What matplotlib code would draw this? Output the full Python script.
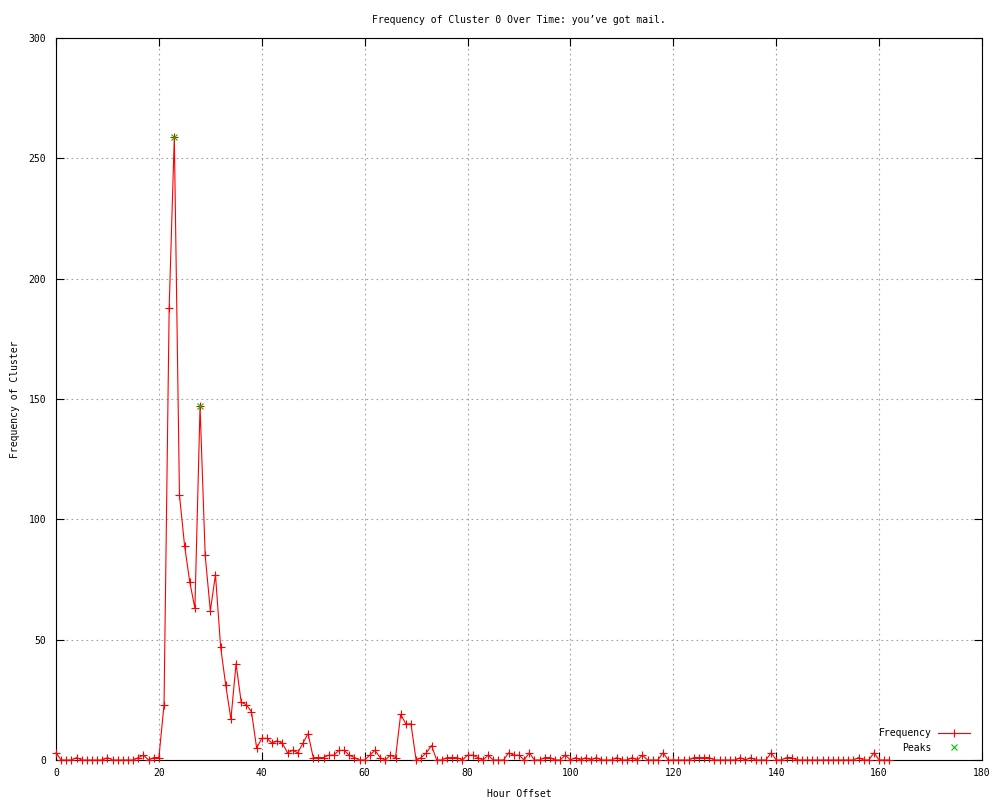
import matplotlib
matplotlib.use("Agg")
import matplotlib.pyplot as plt
import numpy as np

# hourly counts for cluster 0 (hour offset 0..162)
hours = np.arange(163)
freq = [
    3, 0, 0, 0, 1, 0, 0, 0, 0, 0, 1, 0, 0, 0, 0, 0, 1, 2, 0, 1, 1,
    23, 188, 259, 110, 89, 74, 63, 147, 85, 62, 77, 47, 31, 17, 40, 24, 23, 20, 5, 9,
    9, 7, 8, 7, 3, 4, 3, 7, 11, 1, 1, 1, 2, 2, 4, 4, 2, 1, 0, 0,
    2, 4, 1, 0, 2, 1, 19, 15, 15, 0, 1, 3, 6, 0, 0, 1, 1, 1, 0, 2,
    2, 1, 0, 2, 0, 0, 0, 3, 2, 2, 0, 3, 0, 0, 1, 1, 0, 0, 2, 0,
    1, 0, 1, 0, 1, 0, 0, 0, 1, 0, 0, 1, 0, 2, 0, 0, 0, 3, 0, 0,
    0, 0, 0, 1, 1, 1, 1, 0, 0, 0, 0, 0, 1, 0, 1, 0, 0, 0, 3, 0,
    0, 1, 1, 0, 0, 0, 0, 0, 0, 0, 0, 0, 0, 0, 0, 1, 0, 0, 3, 0,
    0, 0,
]
peak_hours = [23, 28]
peak_vals = [259, 147]

title = "Frequency of Cluster 0 Over Time: you\u2019ve got mail."
xlabel = "Hour Offset"
ylabel = "Frequency of Cluster"

plt.rcParams['font.family'] = ['DejaVu Sans Mono']
plt.rcParams['font.size'] = 7

fig = plt.figure(figsize=(10, 8), dpi=100)
ax = fig.add_axes([0.056, 0.05, 0.926, 0.9025])

ax.plot(hours, freq, color='#ff0000', lw=0.8, marker='+', ms=5.5, mew=0.8,
        clip_on=False, label='Frequency', zorder=3)
ax.plot(peak_hours, peak_vals, ls='none', color='#00c000', marker='x', ms=4.5,
        mew=0.8, clip_on=False, label='Peaks', zorder=4)

ax.set_xlim(0, 180)
ax.set_ylim(0, 300)
ax.set_xticks(np.arange(0, 181, 20))
ax.set_yticks(np.arange(0, 301, 50))

ax.grid(True, color='#a0a0a0', lw=0.8, linestyle=(0, (1.5, 3)))
ax.set_axisbelow(True)
ax.tick_params(direction='in', length=6, width=0.8, top=True, right=True,
               labelsize=7, color='black')
ax.tick_params(axis='x', pad=6)
ax.tick_params(axis='y', pad=7)
for s in ax.spines.values():
    s.set_linewidth(0.8)

ax.set_title(title, fontsize=7, pad=11)
ax.set_xlabel(xlabel, fontsize=7, labelpad=8)
ax.set_ylabel(ylabel, fontsize=7, labelpad=6)

leg = ax.legend(loc='lower right', bbox_to_anchor=(0.991, 0.0046),
                frameon=False, markerfirst=False, numpoints=1,
                handlelength=3.3, fontsize=7, labelspacing=0.45,
                borderaxespad=0, handletextpad=0.6)
for t in leg.get_texts():
    t.set_ha('right')

fig.savefig('out.png', dpi=100)
